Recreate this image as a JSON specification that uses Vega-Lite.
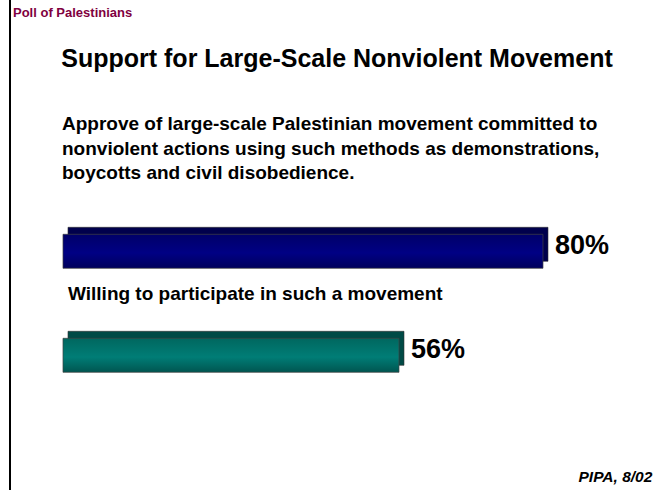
{
  "$schema": "https://vega.github.io/schema/vega-lite/v6.json",
  "width": 647,
  "height": 490,
  "autosize": {"type": "none"},
  "padding": {"left": 10, "top": 0, "right": 0, "bottom": 0},
  "background": "white",
  "config": {"view": {"stroke": null}, "font": "Liberation Sans"},
  "title": {
    "text": "Poll of Palestinians",
    "anchor": "start",
    "frame": "group",
    "fontSize": 13,
    "fontWeight": "bold",
    "color": "#800040",
    "font": "Liberation Sans",
    "offset": 0,
    "dx": 3,
    "dy": 21
  },
  "data": {
    "values": [
      {"id": "q1", "question": "Approve of large-scale Palestinian movement committed to\nnonviolent actions using such methods as demonstrations,\nboycotts and civil disobedience.", "pct": 80, "label": "80%"},
      {"id": "q2", "question": "Willing to participate in such a movement", "pct": 56, "label": "56%"}
    ]
  },
  "resolve": {"axis": {"x": "independent"}},
  "layer": [
    {
      "mark": {"type": "rule", "color": "black", "strokeWidth": 2},
      "encoding": {
        "x": {"datum": -8.833, "type": "quantitative", "axis": null}
      }
    },
    {
      "mark": {"type": "bar", "xOffset": 5, "x2Offset": 5, "yOffset": -7, "y2Offset": -7, "stroke": "#303030", "strokeWidth": 0.6},
      "encoding": {
        "x": {
          "field": "pct", "type": "quantitative",
          "scale": {"domain": [-8.833, 99], "nice": false, "zero": false},
          "axis": {
            "orient": "top", "domain": false, "ticks": false, "labels": false, "grid": false,
            "title": "Support for Large-Scale Nonviolent Movement",
            "titleFontSize": 25, "titleFontWeight": "bold", "titleColor": "black", "titleFont": "Liberation Sans",
            "titleBaseline": "alphabetic", "titleAlign": "center", "titleX": 326.5, "titleY": 66
          }
        },
        "x2": {"datum": 0},
        "y": {
          "field": "id", "type": "nominal",
          "scale": {"type": "band", "domain": ["q1", "q2"], "range": [234.3, 372.3], "paddingInner": 0.67308, "paddingOuter": 0},
          "axis": null
        },
        "color": {
          "condition": {"test": "datum.id === 'q1'", "value": "#00004c"},
          "value": "#004a46"
        }
      }
    },
    {
      "mark": {"type": "bar", "stroke": "#404040", "strokeWidth": 0.7},
      "encoding": {
        "x": {"field": "pct", "type": "quantitative", "axis": null},
        "x2": {"datum": 0},
        "y": {"field": "id", "type": "nominal", "axis": null},
        "color": {
          "condition": {
            "test": "datum.id === 'q1'",
            "value": {"gradient": "linear", "x1": 0, "y1": 0, "x2": 0, "y2": 1,
              "stops": [{"offset": 0, "color": "#000068"}, {"offset": 0.55, "color": "#000084"}, {"offset": 1, "color": "#00005c"}]}
          },
          "value": {"gradient": "linear", "x1": 0, "y1": 0, "x2": 0, "y2": 1,
            "stops": [{"offset": 0, "color": "#00675f"}, {"offset": 0.55, "color": "#007d76"}, {"offset": 1, "color": "#005550"}]}
        }
      }
    },
    {
      "mark": {"type": "text", "align": "left", "baseline": "middle", "dx": 12, "dy": -5, "fontSize": 27, "fontWeight": "bold", "color": "black"},
      "encoding": {
        "x": {
          "field": "pct", "type": "quantitative",
          "axis": {
            "orient": "bottom", "domain": false, "ticks": false, "labels": false, "grid": false,
            "title": "PIPA, 8/02", "titleFontSize": 15.5, "titleFontWeight": "bold", "titleFontStyle": "italic",
            "titleColor": "black", "titleFont": "Liberation Sans",
            "titleBaseline": "alphabetic", "titleAlign": "left", "titleX": 568, "titleY": -9
          }
        },
        "y": {"field": "id", "type": "nominal", "axis": null},
        "text": {"field": "label"}
      }
    },
    {
      "transform": [{"filter": "datum.id === 'q1'"}],
      "mark": {"type": "text", "align": "left", "baseline": "alphabetic", "lineBreak": "\n", "lineHeight": 24.5, "dx": -1, "dy": -121, "fontSize": 19, "fontWeight": "bold", "color": "black"},
      "encoding": {
        "x": {"datum": 0, "type": "quantitative", "axis": null},
        "y": {"field": "id", "type": "nominal", "axis": null},
        "text": {"field": "question"}
      }
    },
    {
      "transform": [{"filter": "datum.id === 'q2'"}],
      "mark": {"type": "text", "align": "left", "baseline": "alphabetic", "dx": 5, "dy": -55, "fontSize": 19, "fontWeight": "bold", "color": "black"},
      "encoding": {
        "x": {"datum": 0, "type": "quantitative", "axis": null},
        "y": {"field": "id", "type": "nominal", "axis": null},
        "text": {"field": "question"}
      }
    }
  ]
}
